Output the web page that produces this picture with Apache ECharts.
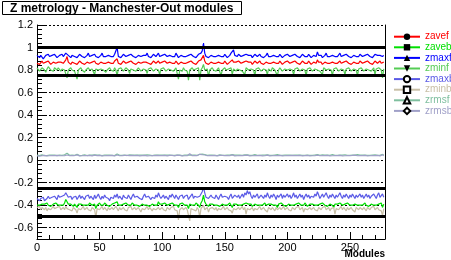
<!DOCTYPE html>
<html><head><meta charset="utf-8">
<script src="https://cdn.jsdelivr.net/npm/echarts@6/dist/echarts.min.js"></script>
<style>html,body{margin:0;padding:0;background:#fff}#c{width:451px;height:260px}</style>
</head><body><div id="c"></div>
<script>
const seriesNames = ['zavef','zaveb','zmaxf','zminf','zmaxb','zminb','zrmsf','zrmsb'];
const seriesColors = ['#ff0000','#00e000','#0000ff','#55cc55','#5a5ae6','#c8bfa6','#7fbf9f','#a0a0c8'];
const seriesSymbols = ['circle','rect','triangle','path://M0,0 L10,0 L5,9 Z','emptyCircle','emptyRect','emptyTriangle','emptyDiamond'];
const limitLines = [1.0, 0.75, -0.25, -0.5];
const xMax = 278;
const minorYTicks = [];
for (let k = -17; k <= 29; k++) { if (k % 5 !== 0) minorYTicks.push(+(k * 0.04).toFixed(2)); }

const zavef = [
0.86,0.87,0.85,0.86,0.88,0.86,0.85,0.87,0.86,0.88,0.87,0.85,0.86,0.87,0.88,0.86,0.85,0.87,0.86,0.87,
0.88,0.86,0.87,0.89,0.92,0.87,0.86,0.85,0.87,0.88,0.86,0.87,0.85,0.86,0.88,0.87,0.86,0.87,0.85,0.86,
0.87,0.88,0.86,0.85,0.87,0.86,0.88,0.86,0.87,0.85,0.86,0.87,0.88,0.86,0.87,0.86,0.85,0.87,0.88,0.86,
0.87,0.86,0.88,0.87,0.90,0.86,0.87,0.85,0.86,0.88,0.87,0.86,0.85,0.87,0.86,0.88,0.87,0.86,0.87,0.85,
0.86,0.87,0.88,0.86,0.85,0.87,0.86,0.87,0.88,0.86,0.87,0.85,0.86,0.88,0.87,0.86,0.87,0.88,0.86,0.85,
0.87,0.86,0.88,0.87,0.86,0.85,0.87,0.88,0.86,0.87,0.86,0.88,0.87,0.85,0.86,0.87,0.88,0.86,0.87,0.86,
0.85,0.87,0.86,0.88,0.87,0.86,0.87,0.85,0.86,0.88,0.87,0.89,0.90,0.93,0.88,0.86,0.87,0.85,0.86,0.87,
0.88,0.86,0.87,0.86,0.85,0.87,0.88,0.86,0.87,0.86,0.88,0.87,0.85,0.86,0.87,0.88,0.89,0.87,0.86,0.87,
0.86,0.88,0.87,0.86,0.85,0.87,0.86,0.88,0.89,0.87,0.86,0.87,0.85,0.86,0.88,0.87,0.86,0.87,0.88,0.86,
0.87,0.85,0.86,0.87,0.88,0.86,0.87,0.86,0.85,0.87,0.88,0.86,0.87,0.86,0.88,0.87,0.85,0.86,0.87,0.86,
0.88,0.87,0.86,0.85,0.87,0.86,0.88,0.87,0.86,0.87,0.85,0.86,0.88,0.87,0.86,0.87,0.86,0.88,0.87,0.85,
0.86,0.87,0.88,0.86,0.89,0.87,0.86,0.87,0.85,0.86,0.87,0.88,0.86,0.87,0.86,0.85,0.87,0.88,0.86,0.87,
0.86,0.87,0.88,0.86,0.85,0.87,0.86,0.88,0.87,0.86,0.87,0.85,0.86,0.87,0.88,0.86,0.87,0.86,0.88,0.87,
0.86,0.85,0.87,0.86,0.88,0.87,0.86,0.87,0.85,0.86,0.88,0.87,0.86,0.87,0.88,0.86,0.85,0.87];

const zaveb = [
-0.40,-0.39,-0.40,-0.41,-0.39,-0.40,-0.39,-0.40,-0.38,-0.40,-0.39,-0.41,-0.40,-0.39,-0.40,-0.38,-0.39,-0.40,-0.39,-0.40,
-0.39,-0.40,-0.38,-0.35,-0.37,-0.39,-0.40,-0.39,-0.40,-0.41,-0.39,-0.40,-0.42,-0.39,-0.40,-0.39,-0.38,-0.40,-0.39,-0.40,
-0.39,-0.40,-0.38,-0.39,-0.40,-0.41,-0.39,-0.43,-0.40,-0.39,-0.38,-0.40,-0.39,-0.40,-0.38,-0.39,-0.40,-0.39,-0.41,-0.40,
-0.39,-0.40,-0.38,-0.39,-0.37,-0.40,-0.39,-0.40,-0.41,-0.39,-0.40,-0.38,-0.39,-0.40,-0.39,-0.40,-0.38,-0.39,-0.40,-0.39,
-0.40,-0.39,-0.41,-0.40,-0.39,-0.38,-0.40,-0.39,-0.40,-0.39,-0.41,-0.40,-0.39,-0.38,-0.40,-0.39,-0.40,-0.37,-0.39,-0.40,
-0.39,-0.40,-0.38,-0.39,-0.40,-0.41,-0.39,-0.40,-0.38,-0.39,-0.40,-0.39,-0.40,-0.42,-0.39,-0.40,-0.38,-0.39,-0.40,-0.39,
-0.40,-0.43,-0.39,-0.38,-0.40,-0.39,-0.40,-0.38,-0.39,-0.40,-0.42,-0.38,-0.36,-0.31,-0.37,-0.39,-0.40,-0.41,-0.39,-0.40,
-0.39,-0.38,-0.40,-0.39,-0.40,-0.39,-0.41,-0.40,-0.39,-0.38,-0.40,-0.39,-0.40,-0.39,-0.38,-0.40,-0.42,-0.39,-0.40,-0.39,
-0.38,-0.40,-0.39,-0.40,-0.41,-0.39,-0.40,-0.38,-0.37,-0.39,-0.40,-0.39,-0.41,-0.40,-0.39,-0.38,-0.40,-0.39,-0.40,-0.39,
-0.40,-0.39,-0.38,-0.40,-0.41,-0.39,-0.40,-0.39,-0.38,-0.40,-0.39,-0.40,-0.42,-0.39,-0.40,-0.38,-0.39,-0.40,-0.39,-0.41,
-0.40,-0.39,-0.38,-0.40,-0.39,-0.40,-0.41,-0.39,-0.40,-0.38,-0.39,-0.40,-0.39,-0.40,-0.38,-0.39,-0.41,-0.40,-0.39,-0.40,
-0.39,-0.38,-0.40,-0.39,-0.40,-0.41,-0.39,-0.40,-0.38,-0.39,-0.40,-0.39,-0.41,-0.40,-0.39,-0.38,-0.40,-0.42,-0.39,-0.40,
-0.39,-0.40,-0.38,-0.39,-0.40,-0.41,-0.39,-0.40,-0.38,-0.39,-0.40,-0.39,-0.40,-0.41,-0.39,-0.38,-0.40,-0.39,-0.40,-0.39,
-0.40,-0.39,-0.38,-0.40,-0.39,-0.41,-0.40,-0.39,-0.38,-0.40,-0.39,-0.40,-0.41,-0.39,-0.40,-0.38,-0.42,-0.39];

const zmaxf = [
0.93,0.92,0.91,0.93,0.92,0.90,0.91,0.93,0.92,0.94,0.92,0.91,0.93,0.92,0.94,0.93,0.91,0.92,0.93,0.92,
0.94,0.92,0.93,0.95,0.96,0.93,0.92,0.91,0.93,0.94,0.92,0.93,0.91,0.92,0.94,0.93,0.92,0.93,0.91,0.92,
0.93,0.95,0.92,0.91,0.93,0.92,0.94,0.92,0.93,0.91,0.92,0.93,0.95,0.92,0.93,0.92,0.91,0.93,0.94,0.92,
0.93,0.92,0.94,0.93,1.00,0.92,0.93,0.91,0.92,0.94,0.93,0.92,0.91,0.93,0.92,0.94,0.93,0.92,0.93,0.91,
0.92,0.93,0.94,0.92,0.91,0.93,0.92,0.93,0.95,0.92,0.93,0.91,0.92,0.94,0.93,0.92,0.93,0.95,0.92,0.91,
0.93,0.92,0.94,0.93,0.92,0.91,0.93,0.94,0.92,0.93,0.92,0.95,0.93,0.91,0.92,0.93,0.94,0.92,0.93,0.92,
0.91,0.93,0.92,0.94,0.93,0.92,0.93,0.91,0.92,0.94,0.93,0.95,0.97,1.04,0.95,0.92,0.93,0.91,0.92,0.93,
0.94,0.92,0.93,0.92,0.91,0.93,0.94,0.92,0.93,0.92,0.94,0.93,0.91,0.92,0.93,0.95,0.94,0.98,0.93,0.92,
0.92,0.94,0.93,0.92,0.91,0.93,0.92,0.94,0.95,0.93,0.92,0.93,0.91,0.92,0.94,0.93,0.92,0.93,0.94,0.92,
0.93,0.91,0.92,0.93,0.95,0.92,0.93,0.92,0.91,0.93,0.94,0.92,0.93,0.92,0.94,0.93,0.91,0.92,0.93,0.92,
0.94,0.93,0.92,0.91,0.93,0.92,0.94,0.93,0.92,0.93,0.91,0.92,0.94,0.93,0.92,0.93,0.92,0.94,0.93,0.91,
0.92,0.93,0.94,0.92,0.96,0.93,0.92,0.93,0.91,0.92,0.93,0.95,0.92,0.93,0.92,0.91,0.93,0.94,0.92,0.93,
0.92,0.93,0.95,0.92,0.91,0.93,0.92,0.94,0.93,0.92,0.93,0.91,0.92,0.93,0.94,0.92,0.93,0.92,0.94,0.93,
0.92,0.91,0.93,0.92,0.94,0.93,0.92,0.93,0.91,0.92,0.94,0.95,0.93,0.92,0.93,0.94,0.92,0.93];

const zminf = [
0.82,0.81,0.79,0.80,0.82,0.81,0.80,0.78,0.81,0.83,0.82,0.80,0.81,0.79,0.82,0.81,0.80,0.82,0.81,0.79,
0.81,0.82,0.80,0.79,0.73,0.80,0.81,0.82,0.80,0.81,0.79,0.80,0.72,0.80,0.81,0.82,0.80,0.81,0.78,0.80,
0.81,0.82,0.80,0.79,0.81,0.80,0.76,0.81,0.82,0.80,0.79,0.81,0.82,0.80,0.81,0.78,0.80,0.81,0.82,0.80,
0.81,0.79,0.82,0.80,0.75,0.81,0.80,0.82,0.81,0.79,0.80,0.82,0.81,0.80,0.77,0.81,0.82,0.80,0.81,0.79,
0.80,0.82,0.81,0.79,0.80,0.81,0.82,0.80,0.77,0.81,0.80,0.82,0.81,0.79,0.80,0.81,0.82,0.80,0.76,0.81,
0.80,0.82,0.81,0.79,0.80,0.81,0.82,0.80,0.81,0.79,0.80,0.82,0.81,0.72,0.80,0.81,0.79,0.82,0.80,0.81,
0.79,0.71,0.80,0.81,0.82,0.80,0.79,0.81,0.80,0.82,0.71,0.80,0.82,0.85,0.80,0.79,0.81,0.74,0.80,0.81,
0.82,0.80,0.81,0.79,0.80,0.82,0.81,0.75,0.80,0.81,0.82,0.80,0.79,0.81,0.80,0.82,0.76,0.81,0.80,0.79,
0.81,0.82,0.80,0.81,0.79,0.80,0.76,0.82,0.81,0.80,0.79,0.81,0.82,0.80,0.75,0.81,0.80,0.82,0.81,0.79,
0.80,0.81,0.82,0.80,0.76,0.81,0.80,0.79,0.82,0.81,0.80,0.81,0.75,0.80,0.82,0.81,0.79,0.80,0.81,0.82,
0.80,0.79,0.81,0.82,0.80,0.76,0.81,0.80,0.82,0.81,0.79,0.80,0.81,0.82,0.80,0.75,0.81,0.80,0.82,0.81,
0.79,0.80,0.81,0.82,0.80,0.81,0.79,0.80,0.76,0.82,0.81,0.80,0.79,0.81,0.82,0.80,0.75,0.81,0.80,0.82,
0.81,0.79,0.80,0.81,0.82,0.80,0.76,0.81,0.80,0.82,0.81,0.79,0.80,0.81,0.82,0.80,0.75,0.81,0.80,0.82,
0.81,0.79,0.80,0.81,0.82,0.80,0.81,0.79,0.80,0.82,0.76,0.81,0.80,0.82,0.81,0.80,0.73,0.81];

const zmaxb = [
-0.34,-0.35,-0.36,-0.34,-0.35,-0.33,-0.36,-0.35,-0.34,-0.32,-0.34,-0.35,-0.33,-0.34,-0.32,-0.33,-0.35,-0.31,-0.33,-0.34,
-0.32,-0.33,-0.31,-0.29,-0.30,-0.33,-0.34,-0.32,-0.35,-0.33,-0.34,-0.32,-0.35,-0.33,-0.31,-0.34,-0.32,-0.33,-0.35,-0.32,
-0.33,-0.31,-0.34,-0.32,-0.33,-0.35,-0.31,-0.34,-0.32,-0.30,-0.33,-0.35,-0.32,-0.34,-0.31,-0.33,-0.32,-0.34,-0.36,-0.33,
-0.32,-0.34,-0.31,-0.33,-0.30,-0.34,-0.32,-0.33,-0.35,-0.31,-0.33,-0.32,-0.34,-0.31,-0.33,-0.35,-0.32,-0.30,-0.33,-0.34,
-0.32,-0.31,-0.34,-0.33,-0.35,-0.32,-0.30,-0.33,-0.34,-0.32,-0.31,-0.35,-0.33,-0.32,-0.34,-0.31,-0.33,-0.29,-0.32,-0.34,
-0.33,-0.31,-0.34,-0.32,-0.33,-0.35,-0.31,-0.33,-0.30,-0.32,-0.34,-0.31,-0.33,-0.35,-0.32,-0.33,-0.31,-0.34,-0.32,-0.33,
-0.31,-0.35,-0.33,-0.32,-0.30,-0.34,-0.32,-0.31,-0.33,-0.34,-0.32,-0.30,-0.28,-0.24,-0.29,-0.33,-0.32,-0.34,-0.33,-0.31,
-0.33,-0.32,-0.34,-0.31,-0.33,-0.35,-0.32,-0.30,-0.33,-0.34,-0.32,-0.31,-0.33,-0.35,-0.32,-0.30,-0.34,-0.33,-0.31,-0.32,
-0.33,-0.31,-0.34,-0.32,-0.30,-0.33,-0.29,-0.31,-0.27,-0.30,-0.28,-0.32,-0.34,-0.31,-0.33,-0.32,-0.30,-0.34,-0.33,-0.31,
-0.32,-0.34,-0.31,-0.33,-0.29,-0.32,-0.34,-0.31,-0.33,-0.30,-0.32,-0.35,-0.31,-0.33,-0.32,-0.30,-0.34,-0.31,-0.33,-0.32,
-0.30,-0.33,-0.31,-0.34,-0.32,-0.29,-0.33,-0.31,-0.34,-0.32,-0.30,-0.33,-0.31,-0.35,-0.32,-0.30,-0.33,-0.31,-0.34,-0.32,
-0.31,-0.33,-0.30,-0.32,-0.28,-0.31,-0.34,-0.32,-0.30,-0.33,-0.31,-0.29,-0.32,-0.34,-0.31,-0.33,-0.30,-0.32,-0.34,-0.31,
-0.33,-0.31,-0.29,-0.32,-0.34,-0.31,-0.33,-0.30,-0.32,-0.34,-0.31,-0.33,-0.30,-0.32,-0.34,-0.31,-0.33,-0.32,-0.30,-0.33,
-0.31,-0.34,-0.32,-0.30,-0.33,-0.31,-0.34,-0.32,-0.33,-0.30,-0.32,-0.34,-0.31,-0.29,-0.33,-0.32,-0.30,-0.33];

const zminb = [
-0.42,-0.43,-0.41,-0.44,-0.42,-0.43,-0.44,-0.42,-0.45,-0.43,-0.42,-0.44,-0.43,-0.41,-0.43,-0.44,-0.42,-0.43,-0.41,-0.44,
-0.43,-0.42,-0.44,-0.41,-0.43,-0.42,-0.44,-0.43,-0.45,-0.42,-0.43,-0.44,-0.47,-0.43,-0.42,-0.44,-0.43,-0.41,-0.44,-0.43,
-0.42,-0.44,-0.43,-0.45,-0.42,-0.43,-0.44,-0.51,-0.43,-0.42,-0.44,-0.43,-0.41,-0.44,-0.42,-0.43,-0.45,-0.42,-0.44,-0.43,
-0.42,-0.44,-0.43,-0.41,-0.43,-0.45,-0.42,-0.44,-0.43,-0.42,-0.44,-0.43,-0.45,-0.42,-0.43,-0.41,-0.44,-0.43,-0.42,-0.44,
-0.43,-0.42,-0.44,-0.46,-0.43,-0.42,-0.44,-0.43,-0.41,-0.44,-0.42,-0.43,-0.45,-0.43,-0.42,-0.44,-0.43,-0.42,-0.44,-0.43,
-0.42,-0.44,-0.43,-0.45,-0.42,-0.43,-0.44,-0.42,-0.43,-0.41,-0.44,-0.43,-0.45,-0.53,-0.44,-0.43,-0.42,-0.44,-0.43,-0.42,
-0.44,-0.43,-0.54,-0.43,-0.42,-0.44,-0.43,-0.45,-0.42,-0.44,-0.51,-0.43,-0.42,-0.40,-0.44,-0.43,-0.42,-0.46,-0.43,-0.44,
-0.42,-0.43,-0.44,-0.42,-0.45,-0.43,-0.42,-0.44,-0.43,-0.41,-0.44,-0.43,-0.42,-0.44,-0.43,-0.45,-0.47,-0.43,-0.42,-0.44,
-0.43,-0.42,-0.44,-0.43,-0.41,-0.44,-0.42,-0.48,-0.43,-0.42,-0.44,-0.43,-0.42,-0.45,-0.43,-0.42,-0.44,-0.43,-0.41,-0.44,
-0.43,-0.42,-0.44,-0.43,-0.46,-0.42,-0.43,-0.44,-0.42,-0.43,-0.45,-0.42,-0.44,-0.43,-0.42,-0.44,-0.43,-0.41,-0.44,-0.43,
-0.42,-0.44,-0.43,-0.45,-0.42,-0.43,-0.44,-0.42,-0.43,-0.41,-0.44,-0.43,-0.42,-0.46,-0.43,-0.42,-0.44,-0.43,-0.42,-0.44,
-0.43,-0.42,-0.44,-0.43,-0.45,-0.42,-0.43,-0.44,-0.42,-0.43,-0.41,-0.44,-0.43,-0.42,-0.45,-0.43,-0.44,-0.42,-0.48,-0.43,
-0.42,-0.44,-0.43,-0.41,-0.44,-0.42,-0.43,-0.45,-0.42,-0.44,-0.43,-0.42,-0.44,-0.43,-0.46,-0.42,-0.43,-0.44,-0.42,-0.43,
-0.44,-0.42,-0.43,-0.45,-0.42,-0.43,-0.44,-0.42,-0.43,-0.41,-0.44,-0.43,-0.42,-0.44,-0.43,-0.45,-0.49,-0.43];

const zrmsf = [
0.045,0.042,0.040,0.044,0.047,0.043,0.041,0.045,0.040,0.043,0.046,0.042,0.044,0.041,0.045,0.043,0.040,0.044,0.046,0.042,
0.043,0.045,0.048,0.055,0.062,0.047,0.043,0.041,0.044,0.046,0.042,0.045,0.052,0.043,0.041,0.044,0.042,0.045,0.047,0.043,
0.041,0.044,0.046,0.042,0.045,0.043,0.048,0.050,0.044,0.042,0.045,0.043,0.041,0.044,0.046,0.043,0.045,0.042,0.044,0.047,
0.043,0.045,0.041,0.044,0.055,0.046,0.043,0.045,0.042,0.044,0.046,0.043,0.041,0.045,0.047,0.043,0.044,0.042,0.045,0.043,
0.046,0.042,0.044,0.041,0.045,0.043,0.046,0.044,0.048,0.042,0.045,0.043,0.041,0.044,0.046,0.043,0.045,0.049,0.044,0.042,
0.045,0.043,0.046,0.042,0.044,0.041,0.045,0.047,0.043,0.044,0.042,0.046,0.044,0.053,0.045,0.043,0.041,0.044,0.046,0.043,
0.045,0.055,0.044,0.042,0.045,0.043,0.046,0.044,0.042,0.045,0.052,0.047,0.054,0.066,0.050,0.044,0.043,0.049,0.045,0.042,
0.044,0.046,0.043,0.045,0.041,0.044,0.047,0.048,0.043,0.045,0.042,0.044,0.046,0.043,0.045,0.042,0.049,0.046,0.044,0.043,
0.045,0.042,0.044,0.046,0.043,0.045,0.048,0.050,0.047,0.044,0.042,0.045,0.043,0.046,0.049,0.044,0.042,0.045,0.043,0.044,
0.046,0.043,0.045,0.042,0.048,0.044,0.043,0.045,0.042,0.044,0.046,0.043,0.049,0.044,0.042,0.045,0.043,0.046,0.044,0.042,
0.045,0.043,0.046,0.044,0.042,0.048,0.045,0.043,0.044,0.042,0.046,0.044,0.043,0.045,0.042,0.049,0.044,0.046,0.043,0.045,
0.042,0.044,0.046,0.043,0.050,0.045,0.043,0.044,0.048,0.042,0.045,0.043,0.046,0.044,0.042,0.045,0.049,0.044,0.043,0.045,
0.042,0.044,0.046,0.043,0.045,0.042,0.048,0.044,0.043,0.045,0.042,0.044,0.046,0.043,0.045,0.042,0.049,0.044,0.046,0.043,
0.045,0.042,0.044,0.046,0.043,0.045,0.042,0.044,0.046,0.043,0.048,0.044,0.043,0.045,0.042,0.044,0.051,0.045];

const zrmsb = [
0.038,0.040,0.036,0.041,0.039,0.037,0.042,0.040,0.038,0.041,0.039,0.043,0.040,0.037,0.041,0.039,0.042,0.038,0.040,0.041,
0.039,0.042,0.040,0.050,0.046,0.041,0.039,0.042,0.040,0.038,0.041,0.043,0.047,0.040,0.038,0.041,0.039,0.042,0.040,0.038,
0.041,0.039,0.042,0.040,0.038,0.041,0.044,0.052,0.041,0.039,0.042,0.040,0.038,0.041,0.039,0.042,0.040,0.043,0.041,0.039,
0.042,0.040,0.038,0.041,0.046,0.042,0.039,0.041,0.040,0.038,0.042,0.040,0.043,0.039,0.041,0.040,0.042,0.038,0.041,0.039,
0.042,0.040,0.038,0.044,0.041,0.039,0.042,0.040,0.038,0.041,0.039,0.043,0.040,0.038,0.041,0.039,0.042,0.045,0.040,0.038,
0.041,0.039,0.042,0.040,0.038,0.041,0.043,0.039,0.042,0.040,0.038,0.041,0.044,0.055,0.042,0.040,0.038,0.041,0.039,0.042,
0.040,0.043,0.056,0.041,0.039,0.042,0.040,0.038,0.041,0.039,0.052,0.044,0.048,0.060,0.046,0.041,0.039,0.045,0.040,0.038,
0.041,0.039,0.042,0.040,0.038,0.041,0.043,0.040,0.042,0.039,0.041,0.038,0.040,0.042,0.039,0.041,0.047,0.040,0.038,0.041,
0.039,0.042,0.040,0.038,0.041,0.039,0.043,0.049,0.045,0.040,0.038,0.041,0.039,0.042,0.040,0.038,0.041,0.039,0.042,0.040,
0.038,0.041,0.039,0.042,0.045,0.040,0.038,0.041,0.039,0.042,0.040,0.038,0.041,0.039,0.042,0.040,0.038,0.041,0.039,0.042,
0.040,0.038,0.041,0.039,0.042,0.044,0.040,0.038,0.041,0.039,0.042,0.040,0.038,0.045,0.041,0.039,0.042,0.040,0.038,0.041,
0.039,0.042,0.040,0.038,0.044,0.041,0.039,0.042,0.040,0.038,0.041,0.039,0.042,0.040,0.038,0.041,0.039,0.047,0.040,0.038,
0.041,0.039,0.042,0.040,0.038,0.041,0.039,0.042,0.040,0.038,0.041,0.039,0.042,0.040,0.045,0.041,0.039,0.042,0.040,0.038,
0.041,0.039,0.042,0.040,0.038,0.041,0.039,0.042,0.040,0.038,0.041,0.039,0.042,0.040,0.038,0.041,0.048,0.040];

const seriesValues = [zavef, zaveb, zmaxf, zminf, zmaxb, zminb, zrmsf, zrmsb];
const FONT = '"Liberation Sans", Arial, Helvetica, sans-serif';

const chart = echarts.init(document.getElementById('c'), null, {renderer: 'canvas'});
const series = seriesNames.map((n, i) => {
  const s = {
    name: n, type: 'line', xAxisIndex: 0, yAxisIndex: 0,
    data: seriesValues[i].map((v, j) => [j, v]),
    showSymbol: false, symbol: seriesSymbols[i], symbolSize: 7,
    itemStyle: {color: '#000'},
    lineStyle: {color: seriesColors[i], width: 1.2},
    silent: true, animation: false
  };
  if (i === 0) {
    s.markLine = {
      silent: true, symbol: 'none', animation: false,
      label: {show: false},
      lineStyle: {color: '#000', width: 3, type: 'solid'},
      data: limitLines.map(v => ({yAxis: v}))
    };
  }
  return s;
});

chart.setOption({
  animation: false,
  backgroundColor: '#fff',
  title: [
    {text: 'Z metrology - Manchester-Out modules', left: 2, top: 1,
     padding: [1, 8, 0, 8], borderColor: '#000', borderWidth: 1, backgroundColor: '#fff',
     textStyle: {fontSize: 12, fontWeight: 'bold', color: '#000', fontFamily: FONT, lineHeight: 13}},
    {text: 'Modules', right: 66, top: 249, padding: 0,
     textStyle: {fontSize: 10, fontWeight: 'bold', color: '#000', fontFamily: FONT, lineHeight: 10}}
  ],
  legend: {
    orient: 'vertical', left: 393, top: 31.7, itemWidth: 26, itemHeight: 8, itemGap: 0.6,
    padding: 0, selectedMode: false,
    textStyle: {fontSize: 10, lineHeight: 10, fontFamily: FONT},
    data: seriesNames.map((n, i) => ({name: n, textStyle: {color: seriesColors[i]}}))
  },
  grid: {left: 37, right: 66, top: 25, bottom: 21, containLabel: false},
  xAxis: [
    {type: 'value', min: 0, max: xMax, interval: 50, position: 'bottom',
     axisLine: {onZero: false, lineStyle: {color: '#000', width: 1}},
     axisTick: {inside: true, length: 7, lineStyle: {color: '#000'}},
     axisLabel: {color: '#000', fontSize: 11, margin: 3, showMaxLabel: false, fontFamily: FONT},
     splitLine: {show: false}
    },
    {type: 'value', min: 0, max: xMax, interval: 10, position: 'bottom',
     axisLine: {show: false, onZero: false}, axisTick: {show: true, inside: true, length: 4, lineStyle: {color: '#000'}},
     axisLabel: {show: false}, splitLine: {show: false}}
  ],
  yAxis: [
    {type: 'value', min: -0.7, max: 1.2, splitNumber: 10, position: 'left',
     axisLine: {show: true, onZero: false, lineStyle: {color: '#000', width: 1}},
     axisTick: {show: true, inside: true, length: 9, lineStyle: {color: '#000'}},
     axisLabel: {color: '#000', fontSize: 11, margin: 4, showMinLabel: false, fontFamily: FONT},
     splitLine: {show: true, lineStyle: {color: '#000', width: 1, type: [2, 2]}}
    },
    {type: 'value', min: -0.7, max: 1.2, position: 'left',
     axisLine: {show: false, onZero: false},
     axisTick: {show: true, inside: true, length: 5, lineStyle: {color: '#000'}, customValues: minorYTicks},
     axisLabel: {show: false}, splitLine: {show: false}},
    {type: 'value', min: -0.7, max: 1.2, position: 'right',
     axisLine: {show: true, onZero: false, lineStyle: {color: '#000', width: 1}},
     axisTick: {show: false}, axisLabel: {show: false}, splitLine: {show: false}}
  ],
  series: series
});
</script></body></html>
